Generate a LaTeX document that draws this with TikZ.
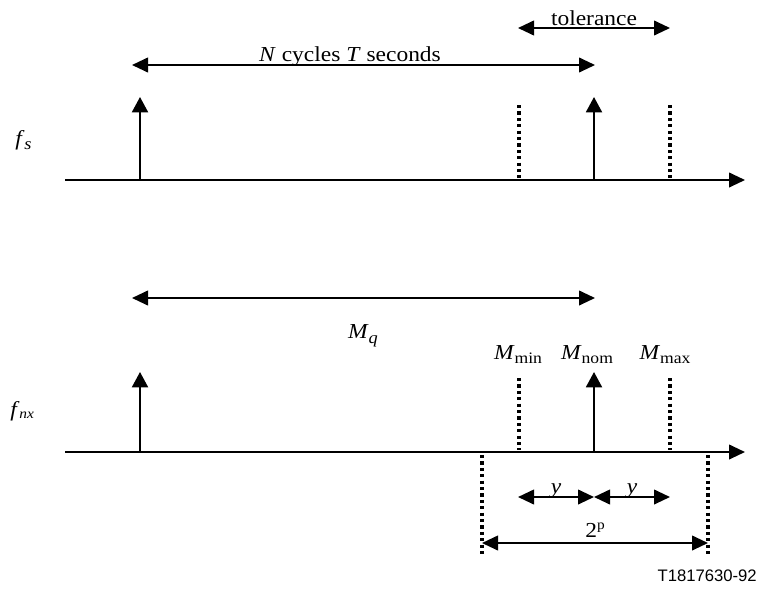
\documentclass[tikz,border=0pt]{standalone}
\usepackage{fontspec}
\setmainfont{Liberation Serif}[FakeStretch=1.1]
\newfontfamily\labelsans{Liberation Sans}
\usetikzlibrary{arrows.meta}
\newcommand\Msub[1]{\textit{M}\raisebox{-3.5pt}{\fontsize{12}{13}\selectfont #1}}
\tikzset{
  ax/.style={line width=1.45pt,-{Triangle[length=12pt,width=11pt]}},
  imp/.style={line width=1.45pt,-{Triangle[length=11.5pt,width=12pt]}},
  dim/.style={line width=1.45pt,{Triangle[length=12pt,width=11pt]}-{Triangle[length=12pt,width=11pt]}},
  dots/.style={line width=2.6pt,dash pattern=on 2.4pt off 2.4pt},
  lbl/.style={inner sep=0pt,anchor=base,font=\fontsize{16}{18}\selectfont},
}
\begin{document}
\begin{tikzpicture}[x=0.75pt,y=-0.75pt]
\useasboundingbox (0,0) rectangle (759,593);
% top coordinates
\coordinate (a1s) at (65,180); \coordinate (a1e) at (745,180);
\coordinate (i1b) at (140,180); \coordinate (i1t) at (140,97);
\coordinate (i2b) at (594,180); \coordinate (i2t) at (594,97);
\coordinate (d1t) at (519,105); \coordinate (d1b) at (519,178);
\coordinate (d2t) at (670,105); \coordinate (d2b) at (670,178);
\coordinate (nL) at (132,65); \coordinate (nR) at (595,65);
\coordinate (tL) at (518,28); \coordinate (tR) at (670,28);
% bottom coordinates
\coordinate (a2s) at (65,452); \coordinate (a2e) at (745,452);
\coordinate (j1b) at (140,452); \coordinate (j1t) at (140,372);
\coordinate (j2b) at (594,452); \coordinate (j2t) at (594,372);
\coordinate (e1t) at (519,378); \coordinate (e1b) at (519,450);
\coordinate (e2t) at (670,378); \coordinate (e2b) at (670,450);
\coordinate (g1t) at (482,455); \coordinate (g1b) at (482,555);
\coordinate (g2t) at (708,455); \coordinate (g2b) at (708,555);
\coordinate (mL) at (132,298); \coordinate (mR) at (595,298);
\coordinate (yL) at (518,497); \coordinate (yM) at (594,497); \coordinate (yR) at (670,497);
\coordinate (pL) at (482,543); \coordinate (pR) at (708,543);
% top drawing
\draw[ax] (a1s) -- (a1e);
\draw[imp] (i1b) -- (i1t);
\draw[imp] (i2b) -- (i2t);
\draw[dots] (d1t) -- (d1b);
\draw[dots] (d2t) -- (d2b);
\draw[dim] (nL) -- (nR);
\draw[dim] (tL) -- (tR);
\node[lbl] (ncyc) at (350,61) {\textit{N} cycles \textit{T} seconds};
\node[lbl] (tol) at (594,25) {tolerance};
\node[lbl,anchor=base west] (fs) at (15,145) {\textit{f}\raisebox{-3pt}{\fontsize{12.5}{13}\selectfont\textit{s}}};
% bottom drawing
\draw[ax] (a2s) -- (a2e);
\draw[imp] (j1b) -- (j1t);
\draw[imp] (j2b) -- (j2t);
\draw[dots] (e1t) -- (e1b);
\draw[dots] (e2t) -- (e2b);
\draw[dots] (g1t) -- (g1b);
\draw[dots] (g2t) -- (g2b);
\draw[dim] (mL) -- (mR);
\draw[dim] (yL) -- (yM);
\draw[dim] (yM) -- (yR);
\draw[dim] (pL) -- (pR);
\node[lbl] (mq) at (363,338) {\textit{M}\raisebox{-4pt}{\fontsize{12.5}{13}\selectfont\textit{q}}};
\node[lbl] (mmin) at (518,359) {\Msub{min}};
\node[lbl] (mnom) at (587,359) {\Msub{nom}};
\node[lbl] (mmax) at (665,359) {\Msub{max}};
\node[lbl] (y1) at (556,493) {\textit{y}};
\node[lbl] (y2) at (632,493) {\textit{y}};
\node[lbl] (twop) at (595,537) {2\raisebox{5.5pt}{\fontsize{10.5}{11}\selectfont p}};
\node[lbl,anchor=base west] (fnx) at (10,416) {\textit{f}\raisebox{-2pt}{\fontsize{10.5}{11}\selectfont\textit{nx}}};
\node[inner sep=0pt,anchor=base east,font=\labelsans\fontsize{12.5}{14}\selectfont] (code) at (757,581) {T1817630-92};
\end{tikzpicture}
\end{document}
